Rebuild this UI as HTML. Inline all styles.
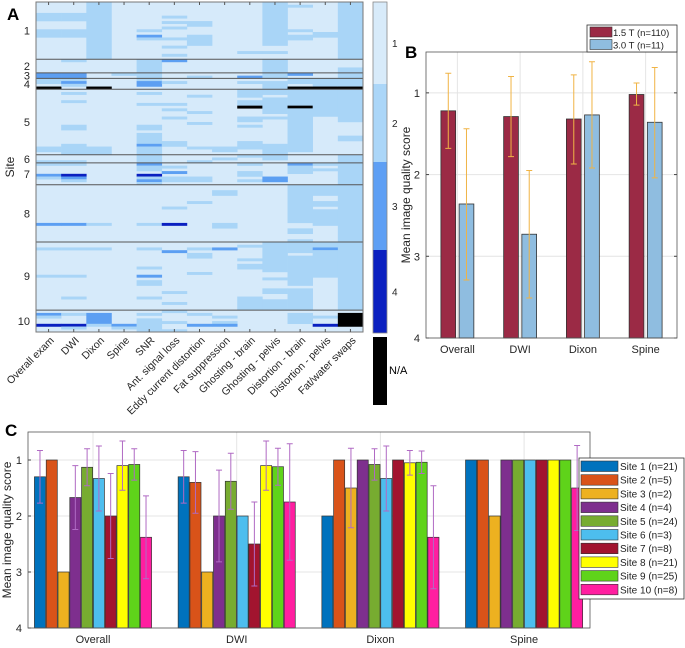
<!DOCTYPE html>
<html><head><meta charset="utf-8"><style>
body{margin:0;background:#fff;}
svg{display:block;font-family:"Liberation Sans",Arial,sans-serif;}
</style></head><body>
<svg id="fig" width="685" height="648" viewBox="0 0 685 648" xmlns="http://www.w3.org/2000/svg">
<g id="panelA"></g>
<g id="panelB"></g>
<g id="panelC"></g>
</svg>
<script>
// ---------- Panel A data ----------
const aColumns = ["Overall exam","DWI","Dixon","Spine","SNR","Ant. signal loss","Eddy current distortion","Fat suppression","Ghosting - brain","Ghosting - pelvis","Distortion - brain","Distortion - pelvis","Fat/water swaps"];
const aSiteSizes = [21,5,2,4,24,3,8,21,25,8];
const aSiteLabels = ["1","2","3","4","5","6","7","8","9","10"];
// runs per column: [startRow, endRow, score] ; 'n' = N/A ; default score 1
const aRuns = [
 [[4,6,2],[10,12,2],[26,27,3],[28,29,2],[31,31,'n'],[53,54,2],[58,58,2],[59,59,2],[63,63,3],[64,64,2],[81,81,3],[90,90,2],[100,100,2],[114,114,3],[115,115,2],[118,118,4]],
 [[4,6,2],[10,12,2],[21,21,2],[26,27,3],[28,28,2],[29,29,3],[30,30,2],[33,33,2],[36,36,2],[45,46,2],[52,55,2],[58,58,2],[59,59,2],[63,63,4],[64,64,3],[65,65,2],[81,81,3],[90,90,2],[100,100,2],[108,108,2],[114,114,2],[118,118,4],[119,119,2]],
 [[0,20,2],[31,31,'n'],[53,55,2],[81,81,2],[90,90,2],[114,117,3],[118,118,2]],
 [[26,26,2],[118,118,3],[119,119,2]],
 [[10,10,2],[12,12,3],[13,13,2],[21,28,2],[29,30,3],[33,33,2],[37,37,2],[45,46,2],[48,51,2],[52,52,3],[53,58,2],[59,59,3],[60,61,2],[63,63,4],[64,64,2],[65,65,3],[66,66,2],[81,81,2],[90,90,2],[97,97,2],[100,100,3],[102,103,2],[108,108,2],[114,114,2],[116,120,2]],
 [[5,5,2],[7,7,2],[9,9,2],[13,13,2],[16,16,2],[19,19,2],[21,21,3],[29,29,2],[37,37,2],[39,39,2],[42,42,2],[51,52,2],[60,60,2],[62,62,3],[64,65,2],[75,75,2],[81,81,4],[91,91,3],[106,106,2],[110,110,2],[113,113,2],[117,117,2],[120,120,2]],
 [[7,8,2],[12,15,2],[27,27,2],[34,34,2],[40,40,2],[44,44,2],[53,53,2],[58,58,2],[64,65,2],[73,73,2],[90,90,2],[92,93,2],[99,99,2],[114,114,2],[118,118,3]],
 [[53,54,2],[57,57,2],[69,70,2],[81,82,2],[90,90,3],[115,115,2],[117,117,2],[118,118,3]],
 [[18,18,2],[27,27,3],[29,29,2],[32,34,2],[36,37,2],[38,38,'n'],[42,43,2],[45,45,2],[51,53,2],[56,56,2],[59,59,2],[62,63,2],[65,65,2],[89,89,2],[94,94,2],[96,97,2],[108,112,2]],
 [[0,15,2],[18,18,2],[21,27,2],[29,33,2],[35,40,2],[42,42,2],[52,57,2],[64,65,3],[88,98,2],[101,101,2],[105,106,2],[109,112,2]],
 [[1,1,2],[10,10,2],[12,13,2],[26,26,3],[28,29,2],[31,31,'n'],[32,37,2],[38,38,'n'],[39,54,2],[59,59,3],[60,62,2],[67,80,2],[83,84,2],[87,91,2],[93,103,2],[105,112,2],[114,117,2]],
 [[11,12,2],[28,30,2],[31,31,'n'],[32,41,2],[59,59,2],[61,61,2],[67,70,2],[73,74,2],[76,81,2],[88,89,2],[90,90,3],[91,100,2],[115,115,2],[118,118,4]],
 [[0,20,2],[24,30,2],[31,31,'n'],[32,43,2],[49,50,2],[56,112,2],[114,118,'n']]
];
// ---------- Panel B data ----------
const bCategories = ["Overall","DWI","Dixon","Spine"];
const bSeriesNames = ["1.5 T (n=110)","3.0 T (n=11)"];
const b15 = [1.22,1.29,1.32,1.02];
const b15Lo = [0.76,0.80,0.78,0.88];
const b15Hi = [1.68,1.78,1.87,1.15];
const b30 = [2.36,2.73,1.27,1.36];
const b30Lo = [1.44,1.95,0.62,0.69];
const b30Hi = [3.29,3.51,1.92,2.04];
const bTicks = [1,2,3,4];
// ---------- Panel C data ----------
const cCategories = ["Overall","DWI","Dixon","Spine"];
const cSites = ["Site 1 (n=21)","Site 2 (n=5)","Site 3 (n=2)","Site 4 (n=4)","Site 5 (n=24)","Site 6 (n=3)","Site 7 (n=8)","Site 8 (n=21)","Site 9 (n=25)","Site 10 (n=8)"];
const cOverall = [1.3,1.0,3.0,1.67,1.13,1.33,2.0,1.1,1.08,2.38];
const cOverallSd = [0.47,0,0,0.57,0.33,0.58,0.76,0.44,0.28,0.74];
const cDWI = [1.3,1.4,3.0,2.0,1.38,2.0,2.5,1.1,1.12,1.75];
const cDWISd = [0.47,0.55,0,0.82,0.5,0,0.75,0.44,0.33,1.04];
const cDixon = [2.0,1.0,1.5,1.0,1.08,1.33,1.0,1.05,1.04,2.38];
const cDixonSd = [0,0,0.71,0,0.28,0.58,0,0.22,0.2,0.92];
const cSpine = [1,1,2,1,1,1,1,1,1,1.5];
const cSpineSd = [0,0,0,0,0,0,0,0,0,0.76];
const cTicks = [1,2,3,4];

const NS="http://www.w3.org/2000/svg";
function mk(parent,tag,attrs,text){const e=document.createElementNS(NS,tag);for(const k in attrs)e.setAttribute(k,attrs[k]);if(text!==undefined)e.textContent=text;parent.appendChild(e);return e;}

// ===== Panel A =====
(function(){
 const g=document.getElementById('panelA');
 const L=36,R=363,T=2,B=332;
 const nRows=aSiteSizes.reduce((a,b)=>a+b,0);
 const cw=(R-L)/aColumns.length, rh=(B-T)/nRows;
 const colX=i=>L+i*cw, rowY=r=>T+r*rh;
 const cmap={1:"#d6eafa",2:"#a9d5f7",3:"#5c9ff2",4:"#0a20c0",n:"#000000"};
 let bg=mk(g,'rect',{x:L,y:T,width:R-L,height:B-T,fill:cmap[1]});
 
 
 aRuns.forEach((runs,ci)=>{
  runs.forEach(run=>{
   const c=mk(g,'rect',{x:colX(ci),y:rowY(run[0]),width:cw+0.3,height:(run[1]-run[0]+1)*rh+0.2,fill:cmap[run[2]]});
   
   
  });
 });
 let acc=0;
 aSiteSizes.forEach((s,i)=>{
  const mid=rowY(acc+s/2);
  const t=mk(g,'text',{x:30,y:mid+4,'font-size':11,'text-anchor':'end',fill:'#262626'},aSiteLabels[i]);
  
  
  acc+=s;
  if(i<aSiteSizes.length-1){
   const l=mk(g,'line',{x1:L,x2:R,y1:rowY(acc),y2:rowY(acc),stroke:'#555',"stroke-width":1});
   
   
  }
 });
 let fr=mk(g,'rect',{x:L,y:T,width:R-L,height:B-T,fill:'none',stroke:'#777','stroke-width':1});
 
 
 aColumns.forEach((name,i)=>{
  const cx=colX(i)+cw/2;
  mk(g,'line',{x1:cx,x2:cx,y1:B,y2:B-3,stroke:'#555'});
  mk(g,'line',{x1:cx,x2:cx,y1:T,y2:T+3,stroke:'#555'});
  const ax=cx+6, ay=341;
  const t=mk(g,'text',{x:ax,y:ay,'font-size':10.5,'text-anchor':'end',fill:'#262626',transform:`rotate(-45 ${ax} ${ay})`},name);
  
  
 });
 const yl=mk(g,'text',{x:14,y:167,'font-size':12,'text-anchor':'middle',fill:'#262626',transform:'rotate(-90 14 167)'},'Site');
 
 
 const lab=mk(g,'text',{x:7,y:20,'font-size':17,'font-weight':'bold'},'A');
 
 
 const cb=[["#d8ebfa",2,84,"1"],["#abd6f8",84,162,"2"],["#5e9ff4",162,250,"3"],["#0b20c0",250,333,"4"]];
 cb.forEach(c=>{
  const r=mk(g,'rect',{x:373,y:c[1],width:14,height:c[2]-c[1],fill:c[0]});
  
  
  const t=mk(g,'text',{x:392,y:(c[1]+c[2])/2+4,'font-size':10,fill:'#262626'},c[3]);
  
  
 });
 mk(g,'rect',{x:373,y:2,width:14,height:331,fill:'none',stroke:'#888','stroke-width':0.8});
 const na=mk(g,'rect',{x:373,y:337,width:14,height:68,fill:'#000'});
 
 
 const nat=mk(g,'text',{x:389,y:374,'font-size':11,fill:'#000'},'N/A');
 
 
})();

// ===== Panel B =====
(function(){
 const g=document.getElementById('panelB');
 const L=426,R=677,T=52,B=338;
 const y=v=>T+(v-0.5)/(4-0.5)*(B-T);
 const x=v=>L+(v-0.5)/(4.5-0.5)*(R-L);
 mk(g,'rect',{x:L,y:T,width:R-L,height:B-T,fill:'#fff'});
 bCategories.forEach((c,i)=>mk(g,'line',{x1:x(i+1),x2:x(i+1),y1:T,y2:B,stroke:'#e4e4e4'}));
 bTicks.forEach(t=>{
  mk(g,'line',{x1:L,x2:R,y1:y(t),y2:y(t),stroke:'#e4e4e4'});
  mk(g,'line',{x1:L,x2:L+3,y1:y(t),y2:y(t),stroke:'#444'});
  mk(g,'line',{x1:R,x2:R-3,y1:y(t),y2:y(t),stroke:'#444'});
  const tl=mk(g,'text',{x:L-6,y:y(t)+4,'font-size':11,'text-anchor':'end',fill:'#262626'},String(t));
  
  
 });
 const series=[[b15,b15Lo,b15Hi,'#9b2a45',-0.145],[b30,b30Lo,b30Hi,'#8fbde0',0.145]];
 const bw=0.235;
 series.forEach((s,si)=>{
  s[0].forEach((v,i)=>{
   const cx=i+1+s[4];
   const r=mk(g,'rect',{x:x(cx-bw/2),y:y(v),width:x(cx+bw/2)-x(cx-bw/2),height:y(4)-y(v),fill:s[3],stroke:'#333','stroke-width':0.8});
   
   
  });
 });
 series.forEach(s=>{
  s[0].forEach((v,i)=>{
   const px=x(i+1+s[4]);
   const e=mk(g,'path',{d:`M${px},${y(s[1][i])}V${y(s[2][i])}M${px-3},${y(s[1][i])}H${px+3}M${px-3},${y(s[2][i])}H${px+3}`,stroke:'#f0b445',fill:'none','stroke-width':1});
   
   
  });
 });
 mk(g,'rect',{x:L,y:T,width:R-L,height:B-T,fill:'none',stroke:'#555','stroke-width':0.8});
 bCategories.forEach((c,i)=>{
  const t=mk(g,'text',{x:x(i+1),y:B+15,'font-size':11,'text-anchor':'middle',fill:'#262626'},c);
  
  
 });
 const yl=mk(g,'text',{x:410,y:195,'font-size':12,'text-anchor':'middle',fill:'#262626',transform:'rotate(-90 410 195)'},'Mean image quality score');
 
 
 const lab=mk(g,'text',{x:405,y:58,'font-size':17,'font-weight':'bold'},'B');
 
 
 const lg=mk(g,'g',{});
 
 
 mk(lg,'rect',{x:587,y:25,width:90,height:27,fill:'#fff',stroke:'#333','stroke-width':0.8});
 ['#9b2a45','#8fbde0'].forEach((c,i)=>{
  mk(lg,'rect',{x:590,y:27+i*12.5,width:22,height:10,fill:c,stroke:'#333','stroke-width':0.6});
  const t=mk(lg,'text',{x:613,y:36+i*12.5,'font-size':9.5,fill:'#222'},bSeriesNames[i]);
  
  
 });
})();

// ===== Panel C =====
(function(){
 const g=document.getElementById('panelC');
 const L=28,R=590,T=432,B=628;
 const y=v=>T+(v-0.5)/(4-0.5)*(B-T);
 const x=v=>93+(v-1)*143.7;
 const colors=['#0072bd','#d95319','#edb120','#7e2f8e','#77ac30','#4dbeee','#a2142f','#ffff00','#5fd31a','#ff1ea0'];
 const vals=[cOverall,cDWI,cDixon,cSpine], sds=[cOverallSd,cDWISd,cDixonSd,cSpineSd];
 cCategories.forEach((c,i)=>mk(g,'line',{x1:x(i+1),x2:x(i+1),y1:T,y2:B,stroke:'#e4e4e4'}));
 cTicks.forEach(t=>{
  mk(g,'line',{x1:L,x2:R,y1:y(t),y2:y(t),stroke:'#e4e4e4'});
  mk(g,'line',{x1:L,x2:L+3,y1:y(t),y2:y(t),stroke:'#444'});
  const tl=mk(g,'text',{x:L-6,y:y(t)+4,'font-size':11,'text-anchor':'end',fill:'#262626'},String(t));
  
  
 });
 const step=0.082, bw=0.077;
 vals.forEach((arr,ci)=>{
  arr.forEach((v,si)=>{
   const cx=ci+1+(si-4.5)*step;
   const r=mk(g,'rect',{x:x(cx-bw/2),y:y(v),width:x(cx+bw/2)-x(cx-bw/2),height:y(4)-y(v),fill:colors[si],stroke:'#333','stroke-width':0.7});
   
   
  });
 });
 vals.forEach((arr,ci)=>{
  arr.forEach((v,si)=>{
   const sd=sds[ci][si]; if(!sd) return;
   const px=x(ci+1+(si-4.5)*step), lo=Math.max(0.5,v-sd), hi=v+sd;
   const e=mk(g,'path',{d:`M${px},${y(lo)}V${y(hi)}M${px-3},${y(lo)}H${px+3}M${px-3},${y(hi)}H${px+3}`,stroke:'#b06ac4',fill:'none','stroke-width':1});
   
   
  });
 });
 mk(g,'rect',{x:L,y:T,width:R-L,height:B-T,fill:'none',stroke:'#555','stroke-width':0.8});
 cCategories.forEach((c,i)=>{
  const t=mk(g,'text',{x:x(i+1),y:B+15,'font-size':11,'text-anchor':'middle',fill:'#262626'},c);
  
  
 });
 const yl=mk(g,'text',{x:11,y:530,'font-size':12,'text-anchor':'middle',fill:'#262626',transform:'rotate(-90 11 530)'},'Mean image quality score');
 
 
 const lab=mk(g,'text',{x:5,y:436,'font-size':17,'font-weight':'bold'},'C');
 
 
 const lg=mk(g,'g',{});
 
 
 mk(lg,'rect',{x:579,y:458,width:105,height:141,fill:'#fff',stroke:'#333','stroke-width':0.8});
 cSites.forEach((s,i)=>{
  mk(lg,'rect',{x:581,y:461+i*13.7,width:37,height:10.5,fill:colors[i],stroke:'#333','stroke-width':0.6});
  const t=mk(lg,'text',{x:620,y:470+i*13.7,'font-size':10,fill:'#222'},s);
  
  
 });
})();
</script>
</body></html>
